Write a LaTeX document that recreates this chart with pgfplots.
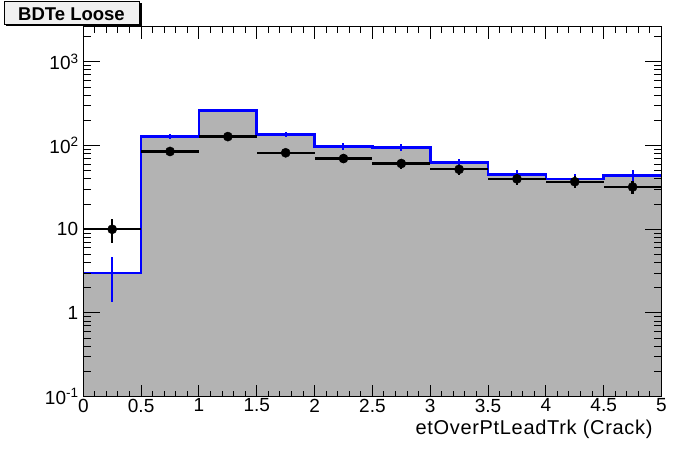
\documentclass[border=0pt]{standalone}
\usepackage{pgfplots}
\pgfplotsset{compat=1.18}
\usepackage{fontspec}
\setmainfont{Liberation Sans}
\definecolor{histgray}{RGB}{179,179,179}
\definecolor{rootblue}{RGB}{0,0,255}
\definecolor{boxgray}{RGB}{240,240,240}
\newcommand{\tl}{\fontsize{19bp}{19bp}\selectfont}
\newcommand{\ex}[1]{10\raisebox{6.8bp}{\fontsize{13.5bp}{13.5bp}\selectfont #1}}
\begin{document}
\begin{tikzpicture}
\path[use as bounding box] (0,0) rectangle (696bp,472bp);
% title box with shadow
\fill[black] (6bp,445.5bp) rectangle (141.5bp,468.5bp);
\filldraw[fill=boxgray,draw=black,line width=1bp] (4bp,447.3bp) rectangle (139bp,470.5bp);
\node[anchor=base,inner sep=0pt] at (71.5bp,451bp) {\fontsize{18.5bp}{18.5bp}\selectfont\bfseries BDTe Loose};
\begin{axis}[
  at={(83.3bp,75.3bp)}, anchor=south west,
  width=578.2bp, height=370bp, scale only axis,
  xmin=0, xmax=5, ymode=log, ymin=0.1, ymax=2630,
  axis on top,
  tick align=inside, tick pos=both,
  xtick={0,0.5,1,1.5,2,2.5,3,3.5,4,4.5,5},
  xticklabels={0,0.5,1,1.5,2,2.5,3,3.5,4,4.5,5},
  minor x tick num=4,
  ytick={0.1,1,10,100,1000},
  yticklabels={\ex{-1},1,10,\ex{2},\ex{3}},
  minor ytick={0.2,0.3,0.4,0.5,0.6,0.7,0.8,0.9,2,3,4,5,6,7,8,9,20,30,40,50,60,70,80,90,200,300,400,500,600,700,800,900,2000},
  xtick style={/pgfplots/major tick length=12bp,/pgfplots/minor tick length=6bp},
  ytick style={/pgfplots/major tick length=17bp,/pgfplots/minor tick length=8bp},
  tick style={line width=1bp, black},
  axis line style={line width=1bp},
  xticklabel style={font=\tl, inner sep=0pt, anchor=north, yshift=-2bp},
  yticklabel style={font=\tl, inner sep=0pt, anchor=east, xshift=-5bp},
]
\addplot[draw=none, fill=histgray, const plot] coordinates {(0,0.1) (0,3) (0.5,129) (1,264) (1.5,136) (2,98) (2.5,95) (3,63) (3.5,45) (4,40) (4.5,44) (5,44) (5,0.1)} -- cycle;
\addplot[rootblue, line width=2.6bp, const plot, mark=none] coordinates {(0,3) (0.5,129) (1,264) (1.5,136) (2,98) (2.5,95) (3,63) (3.5,45) (4,40) (4.5,44) (5,44)};
\addplot[draw=none, mark=none,
  error bars/.cd, y dir=both, y explicit, error mark=none,
  error bar style={line width=2bp, rootblue}]
  coordinates {(0.25,3) +- (0,1.65) (0.75,129) +- (0,9) (1.25,264) +- (0,12) (1.75,136) +- (0,10) (2.25,98) +- (0,9) (2.75,95) +- (0,9) (3.25,63) +- (0,7) (3.75,45) +- (0,6) (4.25,40) +- (0,6) (4.75,44) +- (0,7)};
\addplot[only marks, mark=*, mark size=4.6bp, mark options={fill=black, draw=black},
  error bars/.cd, x dir=both, x explicit, y dir=both, y explicit, error mark=none,
  error bar style={line width=2.2bp, black}]
  coordinates {(0.25,10) +- (0.25,3.16) (0.75,85) +- (0.25,9.2) (1.25,128) +- (0.25,11.3) (1.75,82) +- (0.25,9.1) (2.25,70) +- (0.25,8.4) (2.75,61) +- (0.25,7.8) (3.25,52) +- (0.25,7.2) (3.75,40) +- (0.25,6.3) (4.25,37) +- (0.25,6.1) (4.75,32) +- (0.25,5.7)};
\end{axis}
\node[anchor=base east,inner sep=0pt] at (652.7bp,37.5bp) {\fontsize{20bp}{20bp}\selectfont\addfontfeatures{LetterSpace=3.4}etOverPtLeadTrk (Crack)};
\end{tikzpicture}
\end{document}
